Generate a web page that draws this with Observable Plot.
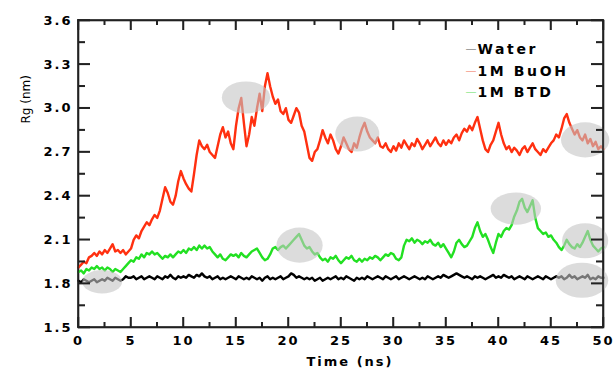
<!DOCTYPE html>
<html>
<head>
<meta charset="utf-8">
<script src="https://cdn.jsdelivr.net/npm/d3@7"></script>
<script src="https://cdn.jsdelivr.net/npm/@observablehq/plot@0.6"></script>
<style>
  html, body { margin: 0; padding: 0; background: #fff; overflow: hidden; }
  #chart svg text { letter-spacing: 2px; }
</style>
</head>
<body>
<div id="chart"></div>
<script>
// ---- data -------------------------------------------------------------
const seriesNames = ["Water", "1M BuOH", "1M BTD"];
const seriesColors = ["#000000", "#ff3010", "#22e022"];
const legendColors = ["#8a8a8a", "#f59a8a", "#8fe88f"];

// time grid (ns), sampled every 0.25 ns
const times = d3.range(0, 50.001, 0.25);

const water = [
  1.82, 1.81, 1.83, 1.82,
  1.81, 1.82, 1.83, 1.81,
  1.82, 1.83, 1.82, 1.84,
  1.83, 1.82, 1.84, 1.83,
  1.82, 1.83, 1.85, 1.84,
  1.84, 1.85, 1.83, 1.84,
  1.85, 1.83, 1.84, 1.85,
  1.84, 1.83, 1.85, 1.84,
  1.83, 1.85, 1.84, 1.86,
  1.84, 1.83, 1.85, 1.84,
  1.85, 1.84, 1.86, 1.85,
  1.84, 1.86, 1.85, 1.87,
  1.85, 1.84, 1.85, 1.83,
  1.84, 1.85, 1.83, 1.84,
  1.83, 1.84, 1.85, 1.84,
  1.83, 1.85, 1.84, 1.83,
  1.84, 1.83, 1.85, 1.84,
  1.83, 1.84, 1.82, 1.84,
  1.85, 1.83, 1.84, 1.83,
  1.84, 1.85, 1.83, 1.84,
  1.85, 1.87, 1.86, 1.84,
  1.85, 1.84, 1.83, 1.84,
  1.83, 1.84, 1.82, 1.83,
  1.84, 1.82, 1.83, 1.84,
  1.83, 1.84, 1.85, 1.83,
  1.84, 1.83, 1.85, 1.84,
  1.83, 1.82, 1.84, 1.83,
  1.84, 1.83, 1.85, 1.84,
  1.83, 1.84, 1.85, 1.84,
  1.83, 1.85, 1.84, 1.83,
  1.84, 1.85, 1.83, 1.84,
  1.85, 1.84, 1.83, 1.84,
  1.85, 1.84, 1.83, 1.84,
  1.83, 1.85, 1.84, 1.83,
  1.84, 1.85, 1.84, 1.86,
  1.85, 1.84, 1.85, 1.86,
  1.87, 1.86, 1.85, 1.84,
  1.85, 1.84, 1.83, 1.85,
  1.84, 1.85, 1.84, 1.83,
  1.84, 1.85, 1.86, 1.84,
  1.85, 1.84, 1.86, 1.85,
  1.84, 1.85, 1.83, 1.84,
  1.85, 1.84, 1.83, 1.85,
  1.84, 1.83, 1.84, 1.85,
  1.84, 1.83, 1.85, 1.84,
  1.83, 1.84, 1.85, 1.84,
  1.85, 1.83, 1.84, 1.86,
  1.84, 1.85, 1.83, 1.84,
  1.85, 1.84, 1.86, 1.83,
  1.84, 1.83, 1.85, 1.84,
  1.84
];

const buoh = [
  1.91, 1.93, 1.95, 1.94,
  1.98, 1.99, 2.01, 1.99,
  2.02, 2.00, 2.03, 2.01,
  2.04, 2.07, 2.02, 2.03,
  2.01, 2.03, 2.00, 2.02,
  2.04, 2.10, 2.13, 2.11,
  2.16, 2.19, 2.22, 2.20,
  2.24, 2.27, 2.25, 2.30,
  2.38, 2.46, 2.42, 2.36,
  2.34, 2.40, 2.50, 2.57,
  2.52, 2.48, 2.45, 2.43,
  2.55, 2.68, 2.78, 2.74,
  2.72, 2.75, 2.70, 2.68,
  2.66, 2.74, 2.82, 2.87,
  2.80, 2.84, 2.76, 2.72,
  2.88, 3.00, 3.07, 2.90,
  2.74, 2.82, 2.94, 2.88,
  3.00, 3.10, 2.98, 3.15,
  3.24, 3.15, 3.08, 3.03,
  3.06, 2.98, 2.96, 3.00,
  2.92, 2.90, 2.95, 3.00,
  2.97, 2.88, 2.84, 2.75,
  2.66, 2.64, 2.70, 2.72,
  2.78, 2.85, 2.80, 2.76,
  2.82, 2.78, 2.72, 2.69,
  2.74, 2.80, 2.76, 2.72,
  2.70, 2.76, 2.73, 2.80,
  2.86, 2.90, 2.84, 2.80,
  2.78, 2.76, 2.80, 2.74,
  2.73, 2.76, 2.72, 2.70,
  2.74, 2.71, 2.76, 2.73,
  2.78, 2.75, 2.72, 2.76,
  2.74, 2.79, 2.76, 2.72,
  2.75, 2.78, 2.74, 2.77,
  2.80, 2.76, 2.74, 2.78,
  2.75, 2.78, 2.76, 2.80,
  2.82, 2.78, 2.83, 2.86,
  2.84, 2.88, 2.85, 2.90,
  2.94, 2.86, 2.78, 2.72,
  2.70, 2.75, 2.78, 2.84,
  2.90, 2.82, 2.76, 2.72,
  2.74, 2.70, 2.73, 2.71,
  2.68, 2.72, 2.74, 2.70,
  2.73, 2.76, 2.72, 2.70,
  2.68, 2.72, 2.70, 2.73,
  2.76, 2.78, 2.82, 2.80,
  2.86, 2.93, 2.96, 2.90,
  2.86, 2.82, 2.85, 2.80,
  2.78, 2.82, 2.76, 2.79,
  2.74, 2.77, 2.72, 2.74,
  2.72
];

const btd = [
  1.88, 1.89, 1.87, 1.90,
  1.89, 1.91, 1.90, 1.92,
  1.90, 1.91, 1.89, 1.91,
  1.90, 1.88, 1.90, 1.89,
  1.88, 1.90, 1.92, 1.94,
  1.96, 1.95, 1.98, 1.97,
  2.00, 1.98, 2.01, 2.00,
  2.02, 2.00, 2.01, 1.99,
  1.97, 1.99, 1.98, 2.00,
  1.98, 2.00, 2.02, 2.01,
  2.03, 2.01, 2.04, 2.03,
  2.05, 2.03, 2.06, 2.04,
  2.06, 2.04, 2.05, 2.02,
  2.00, 1.98, 2.00, 1.97,
  1.96, 1.98, 2.00, 1.99,
  2.00, 1.98, 2.01, 1.99,
  1.98, 2.00, 2.02, 2.03,
  2.04, 2.01, 1.98, 1.96,
  1.97, 2.00, 2.04, 2.05,
  2.03, 2.05, 2.06, 2.04,
  2.06, 2.08, 2.10, 2.12,
  2.14, 2.10, 2.06, 2.04,
  2.05, 2.02, 2.00, 2.01,
  1.98, 1.96, 1.97, 1.95,
  1.98, 1.97, 1.99, 1.96,
  1.94, 1.96, 1.98, 1.97,
  1.99, 1.96, 1.95, 1.97,
  1.95, 1.97, 1.96, 1.98,
  1.97, 1.99, 1.98, 1.96,
  1.98, 2.00, 1.99, 2.01,
  2.00, 1.97, 1.96, 1.98,
  2.06, 2.10, 2.09, 2.11,
  2.08, 2.10, 2.09, 2.07,
  2.09, 2.08, 2.10, 2.07,
  2.06, 2.08, 2.05, 2.07,
  2.04, 2.01, 1.98, 2.02,
  2.08, 2.10, 2.07, 2.05,
  2.06, 2.09, 2.12, 2.18,
  2.22, 2.16, 2.12, 2.14,
  2.10, 2.05, 2.01, 2.08,
  2.14, 2.12, 2.16, 2.18,
  2.17, 2.20, 2.26, 2.30,
  2.36, 2.38, 2.32, 2.29,
  2.33, 2.37, 2.25, 2.18,
  2.16, 2.14, 2.15, 2.12,
  2.13, 2.10, 2.08, 2.05,
  2.03, 2.06, 2.10, 2.07,
  2.05, 2.04, 2.07, 2.05,
  2.08, 2.12, 2.16, 2.10,
  2.06, 2.04, 2.02, 2.04,
  2.05
];

// grey highlight ellipses (centre in ns / nm, radii in ns / nm)
const hlX  = [2.3, 16.0, 26.6, 48.3, 21.1, 41.7, 48.3, 48.0];
const hlY  = [1.81, 3.07, 2.82, 2.78, 2.06, 2.31, 2.09, 1.82];
const hlRx = [1.9, 2.3, 2.1, 2.3, 2.2, 2.4, 2.2, 2.5];
const hlRy = [0.08, 0.11, 0.12, 0.12, 0.12, 0.11, 0.12, 0.12];

// ticks
const xTicks = [0, 5, 10, 15, 20, 25, 30, 35, 40, 45, 50];
const xMinor = [2.5, 7.5, 12.5, 17.5, 22.5, 27.5, 32.5, 37.5, 42.5, 47.5];
const yTicks = [1.5, 1.8, 2.1, 2.4, 2.7, 3.0, 3.3, 3.6];
const yMinor = [1.65, 1.95, 2.25, 2.55, 2.85, 3.15, 3.45];

// ---- build ------------------------------------------------------------
const valuesBySeries = [water, buoh, btd];
const rows = [];
seriesNames.forEach((name, s) => {
  valuesBySeries[s].forEach((v, i) => rows.push({t: times[i], v, series: name}));
});

const W = 616, H = 372, ML = 78, MR = 13, MT = 20, MB = 45;
const frameW = W - ML - MR, frameH = H - MT - MB;
const tk = {stroke: "#222", strokeWidth: 1.5};

const chart = Plot.plot({
  width: W,
  height: H,
  marginLeft: ML,
  marginRight: MR,
  marginTop: MT,
  marginBottom: MB,
  style: {fontFamily: "DejaVu Sans", background: "#fff"},
  x: {domain: [0, 50], label: null},
  y: {domain: [1.5, 3.6], label: null},
  color: {domain: seriesNames, range: seriesColors},
  marks: [
    Plot.frame({stroke: "#222", strokeWidth: 1.6}),
    Plot.line(rows, {x: "t", y: "v", z: "series", stroke: "series", strokeWidth: 2.4, strokeLinejoin: "round"}),
    // inward ticks, drawn as short filled bars via the plot's scales
    Plot.tickX(xTicks, {x: d => d, insetTop: frameH - 10, ...tk}),
    Plot.tickX(xMinor, {x: d => d, insetTop: frameH - 5, ...tk}),
    Plot.tickX(xTicks, {x: d => d, insetBottom: frameH - 10, ...tk}),
    Plot.tickX(xMinor, {x: d => d, insetBottom: frameH - 5, ...tk}),
    Plot.tickY(yTicks, {y: d => d, insetRight: frameW - 12, ...tk}),
    Plot.tickY(yMinor, {y: d => d, insetRight: frameW - 7, ...tk}),
    Plot.tickY(yTicks, {y: d => d, insetLeft: frameW - 12, ...tk}),
    Plot.tickY(yMinor, {y: d => d, insetLeft: frameW - 7, ...tk}),
    // tick labels
    Plot.axisX(xTicks, {anchor: "bottom", tickSize: 0, tickPadding: 8, tickFormat: d => String(d),
      fontSize: 13, fontWeight: "bold", label: null}),
    Plot.axisY(yTicks, {anchor: "left", tickSize: 0, tickPadding: 6, tickFormat: d => d.toFixed(1),
      fontSize: 13, fontWeight: "bold", label: null}),
    // axis titles
    Plot.text(["Time (ns)"], {frameAnchor: "bottom", dx: 9, dy: 38, fontSize: 13, fontWeight: "bold"}),
    Plot.text(["Rg (nm)"], {frameAnchor: "top-left", dx: -57, dy: 103, rotate: -90, fontSize: 12}),
    // legend (inside the frame, top right)
    ...seriesNames.map((name, i) =>
      Plot.text([name], {frameAnchor: "top-left", dx: 399, dy: 24 + i * 21.5, textAnchor: "start",
        fontSize: 14, fontWeight: "bold"})),
    ...seriesNames.map((name, i) =>
      Plot.text(["\u2014"], {frameAnchor: "top-left", dx: 387, dy: 24 + i * 21.5,
        fontSize: 11, fill: legendColors[i]}))
  ]
});

document.getElementById("chart").appendChild(chart);

// scales of the plot
const sx = chart.scale("x"), sy = chart.scale("y");
const fx = d3.scaleLinear(sx.domain, sx.range);
const fy = d3.scaleLinear(sy.domain, sy.range);
const lineNode = chart.querySelector('g[aria-label="line"]');

// highlight ellipses, right above the lines
const g = document.createElementNS("http://www.w3.org/2000/svg", "g");
g.setAttribute("aria-label", "highlights");
chart.insertBefore(g, lineNode.nextSibling);
d3.select(g).selectAll("ellipse")
  .data(hlX.map((x, i) => ({x, y: hlY[i], rx: hlRx[i], ry: hlRy[i]})))
  .join("ellipse")
  .attr("cx", d => fx(d.x))
  .attr("cy", d => fy(d.y))
  .attr("rx", d => Math.abs(fx(d.x + d.rx) - fx(d.x)))
  .attr("ry", d => Math.abs(fy(d.y + d.ry) - fy(d.y)))
  .attr("fill", "#c4c4c4")
  .attr("fill-opacity", 0.6);

// frame edges and inward ticks as filled bars (fills render reliably)
const xL = fx(0), xR = fx(50), yB = fy(1.5), yT = fy(3.6);
const bars = [
  [xL - 0.8, yT - 0.8, xR - xL + 1.6, 1.6],
  [xL - 0.8, yB - 0.8, xR - xL + 1.6, 1.6],
  [xL - 0.8, yT - 0.8, 1.6, yB - yT + 1.6],
  [xR - 0.8, yT - 0.8, 1.6, yB - yT + 1.6]
];
xTicks.forEach(v => { bars.push([fx(v) - 0.75, yB - 10, 1.5, 10], [fx(v) - 0.75, yT, 1.5, 10]); });
xMinor.forEach(v => { bars.push([fx(v) - 0.75, yB - 5, 1.5, 5], [fx(v) - 0.75, yT, 1.5, 5]); });
yTicks.forEach(v => { bars.push([xL, fy(v) - 0.75, 12, 1.5], [xR - 12, fy(v) - 0.75, 12, 1.5]); });
yMinor.forEach(v => { bars.push([xL, fy(v) - 0.75, 7, 1.5], [xR - 7, fy(v) - 0.75, 7, 1.5]); });
const ax = d3.select(chart).append("g").attr("aria-label", "frame-bars");
ax.selectAll("rect").data(bars).join("rect")
  .attr("x", d => d[0]).attr("y", d => d[1]).attr("width", d => d[2]).attr("height", d => d[3])
  .attr("fill", "#222").style("fill", "#222");

// letter spacing tweaks
d3.select(chart).selectAll("text").each(function () {
  const t = this.textContent;
  if (t === "Rg (nm)" || t === "\u2014") this.style.letterSpacing = "0px";
  if (seriesNames.includes(t)) this.style.letterSpacing = "2.6px";
});
</script>
</body>
</html>
